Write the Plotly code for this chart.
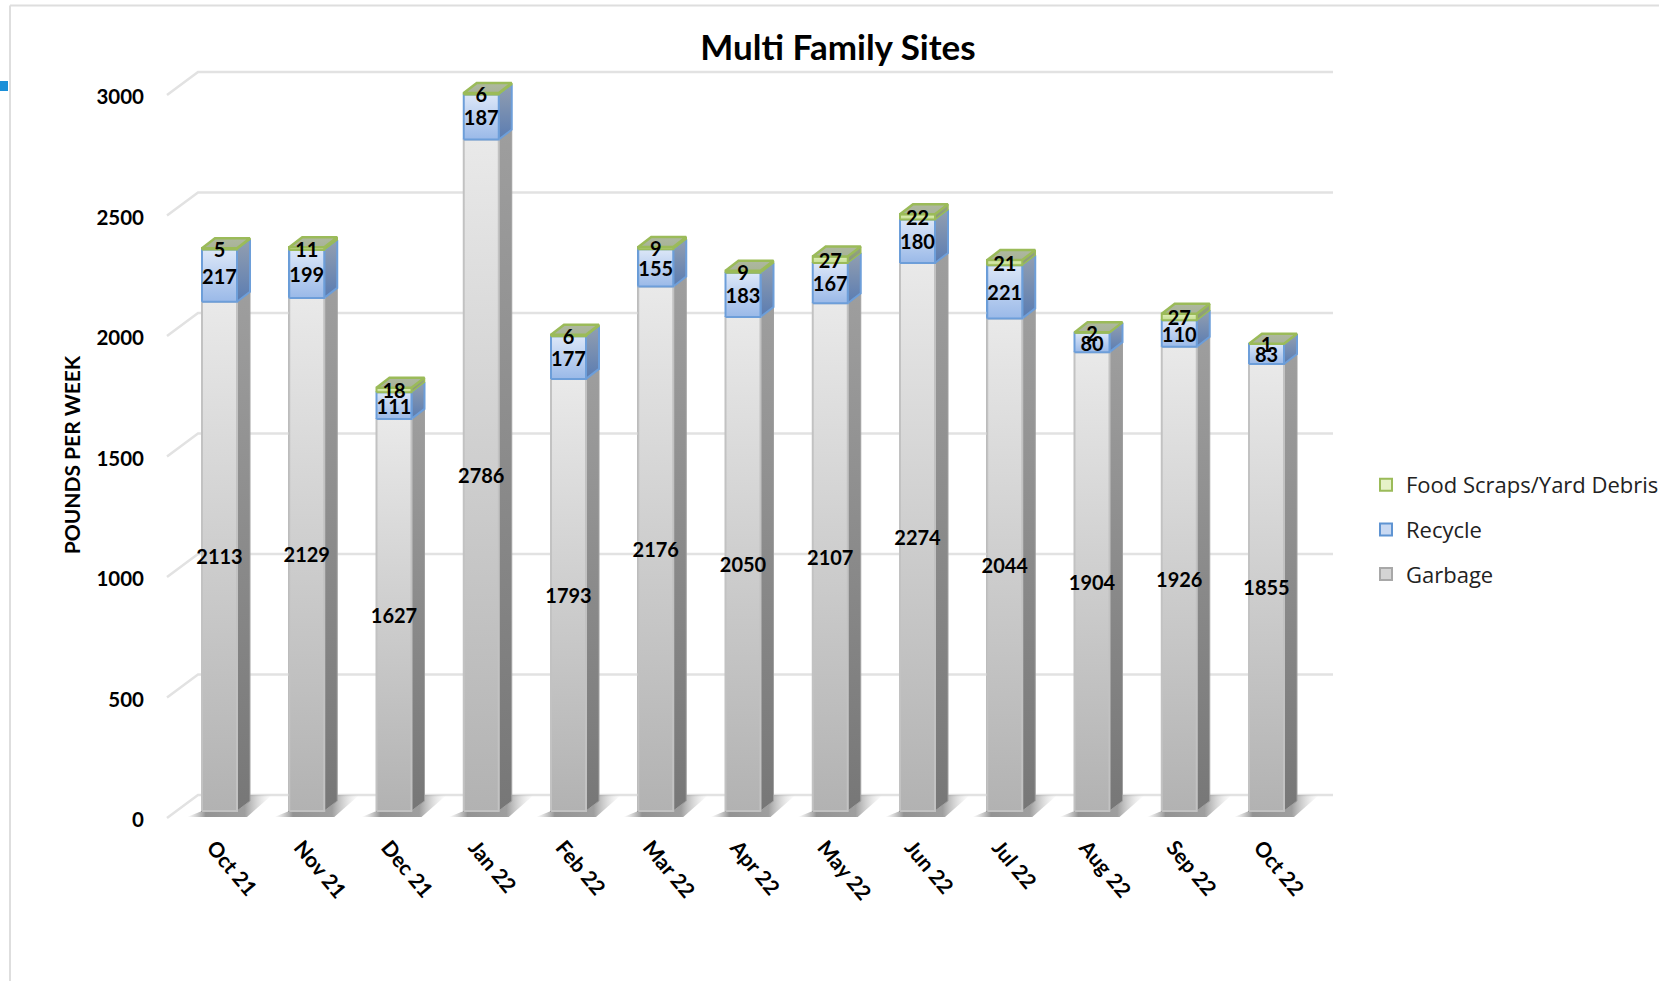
import plotly.graph_objects as go

months = ["Oct 21", "Nov 21", "Dec 21", "Jan 22", "Feb 22", "Mar 22", "Apr 22",
          "May 22", "Jun 22", "Jul 22", "Aug 22", "Sep 22", "Oct 22"]
garbage = [2113, 2129, 1627, 2786, 1793, 2176, 2050, 2107, 2274, 2044, 1904, 1926, 1855]
recycle = [217, 199, 111, 187, 177, 155, 183, 167, 180, 221, 80, 110, 83]
food = [5, 11, 18, 6, 6, 9, 9, 27, 22, 21, 2, 27, 1]
y_ticks = [0, 500, 1000, 1500, 2000, 2500, 3000]

W, H = 1659, 981
L, R, T, B = 150, 1340, 64, 846
PX_X = 87.25          # pixels per category
PX_Y = 0.241          # pixels per pound
X0 = 219.5            # pixel of first bar centre
Y0 = 811              # pixel of the bar baseline
xu = lambda px: px / PX_X
yu = lambda px: px / PX_Y
HALF = xu(17.5)
DX, DV = xu(13), yu(10)
n = len(months)
xs = list(range(n))

fig = go.Figure()


def poly(px, py, colors, line=None, lw=0, kind="vertical", zorder=1):
    fig.add_trace(go.Scatter(
        x=px + px[:1], y=py + py[:1], mode="lines", fill="toself",
        line=dict(color=line or "rgba(0,0,0,0)", width=lw),
        fillgradient=dict(type=kind, colorscale=colors),
        showlegend=False, hoverinfo="skip", zorder=zorder))


# Stacked bars (base layer, also supply the legend)
series = [
    ("Garbage", garbage, "#d4d4d4", "#a8a8a8", 3),
    ("Recycle", recycle, "#c9d9f2", "#5f94d2", 2),
    ("Food Scraps/Yard Debris", food, "#e6f2c8", "#9bbb59", 1),
]
for name, vals, fc, lc, rank in series:
    fig.add_trace(go.Bar(x=xs, y=vals, name=name, width=2 * HALF, legendgroup=name, legendrank=rank,
                         marker=dict(color=fc, line=dict(color=lc, width=2)),
                         hovertemplate="%{y}<extra>" + name + "</extra>"))

# Back wall gridlines with their diagonal to the front of the floor
gx, gy = [], []
for v in y_ticks:
    gx += [xu(167 - X0), xu(198 - X0), xu(1333 - X0), None]
    gy += [v - yu(7), v + yu(16), v + yu(16), None]
fig.add_trace(go.Scatter(x=gx, y=gy, mode="lines", line=dict(color="#e2e2e2", width=2.5),
                         showlegend=False, hoverinfo="skip", zorder=0))

for i in xs:
    g, r, f = garbage[i], recycle[i], food[i]
    l, rt = i - HALF, i + HALF
    # floor shadow
    poly([l - xu(15), rt + xu(10), rt + xu(35), rt + xu(13), rt, l],
         [-yu(6), -yu(6), yu(16), yu(16), 0, 0],
         [[0, "rgba(170,170,170,0)"], [0.22, "rgba(135,135,135,0.9)"],
          [0.68, "rgba(135,135,135,0.8)"], [1, "rgba(200,200,200,0.0)"]],
         kind="horizontal", zorder=1)
    # garbage
    poly([rt, rt + DX, rt + DX, rt], [0, DV, g + DV, g],
         [[0, "#777777"], [1, "#9e9e9e"]], line="#a0a0a0", lw=1, zorder=2)
    poly([l, rt, rt, l], [0, 0, g, g],
         [[0, "#b2b2b2"], [1, "#e9e9e9"]], line="#c2c2c2", lw=2, zorder=3)
    # recycle
    poly([rt, rt + DX, rt + DX, rt], [g, g + DV, g + r + DV, g + r],
         [[0, "#5a7cb2"], [1, "#939fb0"]], line="#6d9ed9", lw=2, zorder=2)
    poly([l, rt, rt, l], [g, g, g + r, g + r],
         [[0, "#9ab9e8"], [1, "#dce7f8"]], line="#6d9ed9", lw=2, zorder=3)
    # food scraps and top face
    t = g + r + f
    poly([rt, rt + DX, rt + DX, rt], [g + r, g + r + DV, t + DV, t],
         [[0, "#8a9a76"], [1, "#94a184"]], line="#9bbb59", lw=1.5, zorder=2)
    poly([l, rt, rt, l], [g + r, g + r, t, t],
         [[0, "#c4de8e"], [1, "#e0eebc"]], line="#9bbb59", lw=2, zorder=3)
    poly([l, rt, rt + DX, l + DX], [t, t, t + DV, t + DV],
         [[0, "#a8b398"], [1, "#aeb8a0"]], line="#9bbb59", lw=2.5, zorder=4)

# Value labels, centred on each segment
cum = [0] * n
for name, vals, *_ in series:
    fig.add_trace(go.Scatter(
        x=xs, y=[c + v / 2 - yu(3) for c, v in zip(cum, vals)], mode="text",
        text=[str(v) for v in vals], textposition="middle center",
        textfont=dict(family="Lato", size=20, color="#000000", weight=700),
        showlegend=False, hoverinfo="skip", zorder=5))
    cum = [c + v for c, v in zip(cum, vals)]

px_to_paper_x = lambda p: (p - L) / (R - L)
px_to_paper_y = lambda p: (B - p) / (B - T)
fig.update_layout(
    width=W, height=H, barmode="stack", bargap=0,
    margin=dict(l=L, r=W - R, t=T, b=H - B, pad=0, autoexpand=False),
    paper_bgcolor="white", plot_bgcolor="rgba(0,0,0,0)",
    font=dict(family="Lato", color="#000000"),
    title=dict(text="Multi Family Sites", x=838 / W, xanchor="center", xref="container",
               y=1 - 48 / H, yanchor="middle", yref="container",
               font=dict(family="Lato", size=35, weight=700, color="#000000")),
    xaxis=dict(range=[xu(L - X0), xu(R - X0)], tickmode="array", tickvals=xs, ticktext=months,
               tickangle=50, showgrid=False, zeroline=False, showline=False, ticks="",
               tickfont=dict(family="Lato", size=21, weight=700, color="#000000"),
               ticklabelstandoff=-16, ticklabelshift=-6),
    yaxis=dict(range=[yu(Y0 - B), yu(Y0 - T)], tickmode="array", tickvals=y_ticks,
               showgrid=False, zeroline=False, showline=False, ticks="",
               tickfont=dict(family="Lato", size=20.5, weight=700, color="#000000"),
               ticklabelshift=9, ticklabelstandoff=5,
               title=dict(text="POUNDS PER WEEK", standoff=10,
                          font=dict(family="Lato", size=21, weight=700, color="#000000"))),
    legend=dict(xref="container", yref="container", x=1366 / W, y=1 - 464 / H,
                xanchor="left", yanchor="top", traceorder="grouped", tracegroupgap=13,
                font=dict(family="Open Sans", size=22, color="#222222"),
                bgcolor="rgba(0,0,0,0)", itemwidth=30),
    shapes=[
        # page frame and the blue tab at the left edge
        dict(type="line", xref="paper", yref="paper", x0=px_to_paper_x(10), x1=px_to_paper_x(W),
             y0=px_to_paper_y(5.5), y1=px_to_paper_y(5.5), line=dict(color="#dedede", width=2)),
        dict(type="line", xref="paper", yref="paper", x0=px_to_paper_x(10), x1=px_to_paper_x(10),
             y0=px_to_paper_y(5.5), y1=px_to_paper_y(H), line=dict(color="#dedede", width=2)),
        dict(type="rect", xref="paper", yref="paper", x0=px_to_paper_x(0), x1=px_to_paper_x(8),
             y0=px_to_paper_y(81), y1=px_to_paper_y(91), fillcolor="#1a8fd8", line=dict(width=0)),
    ],
)

fig.write_html("out.html", config={"displayModeBar": False},
               post_script="document.body.style.margin='0';document.body.style.overflow='hidden';")
